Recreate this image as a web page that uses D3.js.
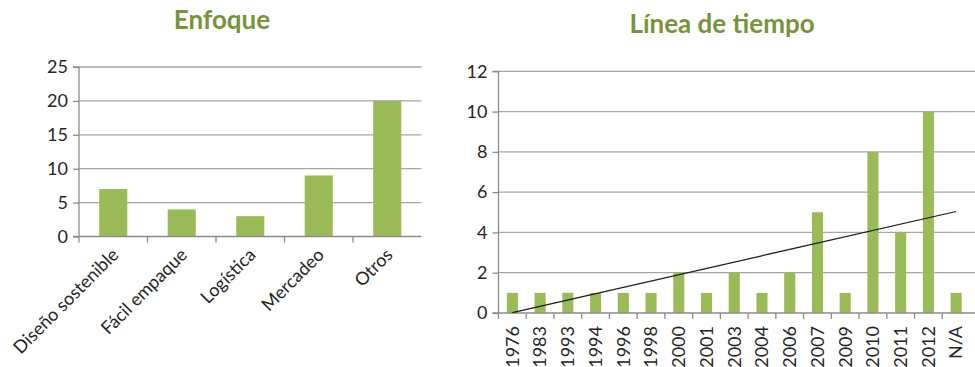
<!DOCTYPE html>
<html>
<head>
<meta charset="utf-8">
<script src="https://cdn.jsdelivr.net/npm/d3@7"></script>
<style>
  html, body { margin: 0; padding: 0; background: #fff; }
  svg { display: block; font-family: Lato, "Open Sans", sans-serif; }
</style>
</head>
<body>
<svg id="chart" width="975" height="367"></svg>
<script>
// ---- Data ----
const focusCategories = ["Diseño sostenible", "Fácil empaque", "Logística", "Mercadeo", "Otros"];
const focusValues = [7, 4, 3, 9, 20];
const focusTicks = [0, 5, 10, 15, 20, 25];

const yearCategories = ["1976", "1983", "1993", "1994", "1996", "1998", "2000", "2001", "2003", "2004", "2006", "2007", "2009", "2010", "2011", "2012", "N/A"];
const yearValues = [1, 1, 1, 1, 1, 1, 2, 1, 2, 1, 2, 5, 1, 8, 4, 10, 1];
const yearTicks = [0, 2, 4, 6, 8, 10, 12];

const titles = ["Enfoque", "Línea de tiempo"];

// ---- Style ----
const barColor = "#9BBB59";
const titleColor = "#77933C";
const gridColor = "#a6a6a6";
const axisColor = "#8c8c8c";
const textColor = "#262626";

const svg = d3.select("#chart");

function drawChart(opts) {
  const g = svg.append("g");
  const x = d3.scaleBand().domain(opts.categories).range([opts.x0, opts.x1]).paddingInner(opts.pad).paddingOuter(opts.pad / 2);
  const xt = d3.scaleBand().domain(opts.categories).range([opts.x0, opts.x1]);
  const y = d3.scaleLinear().domain([0, d3.max(opts.ticks)]).range([opts.y0, opts.y1]);

  // gridlines
  g.selectAll("line.grid").data(opts.ticks.filter(t => t > 0)).join("line")
    .attr("x1", opts.x0).attr("x2", opts.gridEnd)
    .attr("y1", d => y(d)).attr("y2", d => y(d))
    .attr("stroke", gridColor).attr("stroke-width", 1.3);

  // bars
  g.selectAll("rect.bar").data(opts.values).join("rect")
    .attr("x", (d, i) => x(opts.categories[i]))
    .attr("width", x.bandwidth())
    .attr("y", d => y(d))
    .attr("height", d => y(0) - y(d))
    .attr("fill", barColor);

  // y axis
  const yAxis = g.append("g").attr("transform", `translate(${opts.x0},0)`)
    .call(d3.axisLeft(y).tickValues(opts.ticks).tickSize(6).tickPadding(5).tickFormat(d3.format("d")));
  yAxis.select(".domain").attr("stroke", axisColor).attr("stroke-width", 1.3).attr("d", `M-6,${opts.y1}H0V${opts.y0}H-6`);
  yAxis.selectAll(".tick line").attr("stroke", axisColor).attr("stroke-width", 1.3);
  yAxis.selectAll(".tick text").attr("fill", textColor).style("font-size", "18px").style("font-family", "Lato, sans-serif");

  // x axis
  const xAxis = g.append("g").attr("transform", `translate(0,${opts.y0})`)
    .call(d3.axisBottom(xt).tickSize(0).tickFormat(""));
  xAxis.select(".domain").attr("stroke", axisColor).attr("stroke-width", 1.3).attr("d", `M${opts.x0},0H${opts.gridEnd}`);
  xAxis.selectAll(".tick").remove();
  // tick marks at band boundaries
  const bounds = opts.categories.map(c => xt(c));
  xAxis.selectAll("line.bt").data(bounds).join("line")
    .attr("x1", d => d).attr("x2", d => d).attr("y1", 0).attr("y2", 6)
    .attr("stroke", axisColor).attr("stroke-width", 1.3);

  // category labels
  g.selectAll("text.cat").data(opts.categories).join("text")
    .attr("transform", d => opts.labelTransform(xt(d) + xt.bandwidth() / 2, opts.y0))
    .attr("text-anchor", "end")
    .attr("dy", "0.35em")
    .attr("fill", textColor)
    .style("font-size", "18px")
    .text(d => d);

  // title
  g.append("text")
    .attr("x", opts.titleX).attr("y", opts.titleY)
    .attr("text-anchor", "middle")
    .attr("fill", titleColor)
    .style("font-size", "26px").style("font-weight", "bold")
    .text(opts.title);

  return { g, x, xt, y };
}

// Left chart
drawChart({
  categories: focusCategories, values: focusValues, ticks: focusTicks,
  x0: 79, x1: 421.5, gridEnd: 421.5, y0: 236.5, y1: 67, pad: 0.59,
  labelTransform: (cx, y0) => `translate(${cx + 2},${y0 + 15}) rotate(-45)`,
  title: titles[0], titleX: 222, titleY: 29
});

// Right chart
const right = drawChart({
  categories: yearCategories, values: yearValues, ticks: yearTicks,
  x0: 498.5, x1: 970, gridEnd: 975, y0: 313, y1: 71.3, pad: 0.6,
  labelTransform: (cx, y0) => `translate(${cx},${y0 + 13}) rotate(-90)`,
  title: titles[1], titleX: 722, titleY: 33
});

// linear trendline (least squares over category index)
const n = yearValues.length;
const xs = d3.range(1, n + 1);
const mx = d3.mean(xs), my = d3.mean(yearValues);
const slope = d3.sum(xs, (xv, i) => (xv - mx) * (yearValues[i] - my)) / d3.sum(xs, xv => (xv - mx) ** 2);
const intercept = my - slope * mx;
const trend = [0, n - 1].map(i => [right.xt(yearCategories[i]) + right.xt.bandwidth() / 2, right.y(intercept + slope * (i + 1))]);
right.g.append("path")
  .attr("d", d3.line()(trend))
  .attr("stroke", "#1a1a1a").attr("stroke-width", 1.2).attr("fill", "none");
</script>
</body>
</html>
